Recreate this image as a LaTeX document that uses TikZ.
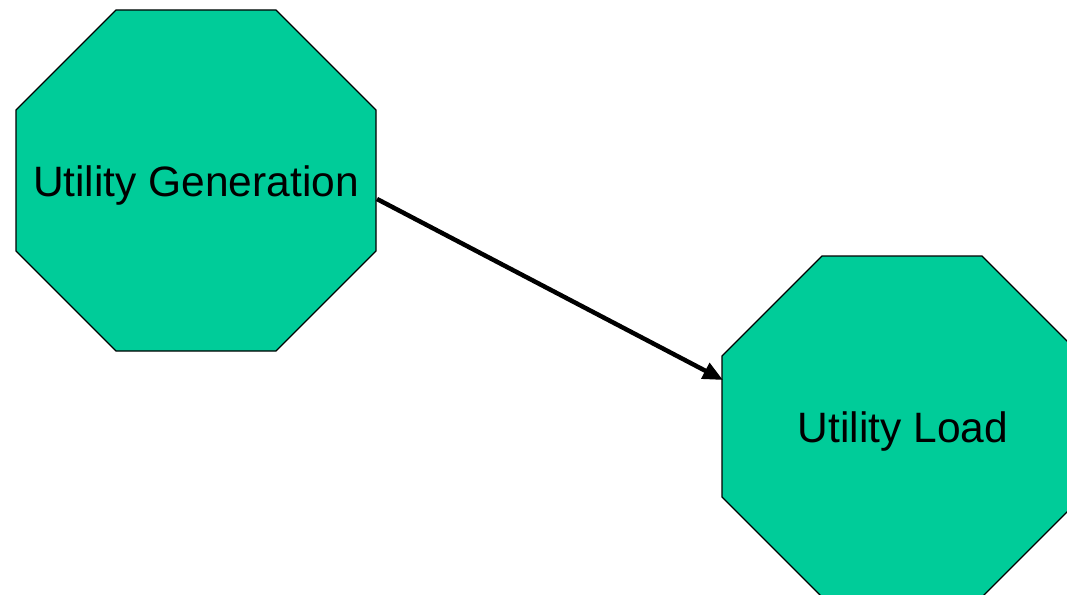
\documentclass[tikz,border=0pt]{standalone}
\usepackage{fontspec}
\setmainfont{Liberation Sans}
\usetikzlibrary{arrows.meta}
\definecolor{octfill}{HTML}{00CC99}
\tikzset{
  oct/.style={fill=octfill,draw=black,line width=1.2pt,line join=miter},
  lbl/.style={inner sep=0pt,font=\fontsize{42.5}{50}\selectfont},
  conn/.style={line width=4.5pt,-{Triangle[length=20pt,width=17pt]}}
}
\begin{document}
\begin{tikzpicture}[x=1pt,y=-1pt]
\useasboundingbox (0,0) rectangle (1067,594);
\draw[oct] (116,10) -- (276,10) -- (376,110) -- (376,251) -- (276,351) -- (116,351) -- (16,251) -- (16,110) -- cycle;
\draw[oct] (822,256) -- (982,256) -- (1082,356) -- (1082,497) -- (982,597) -- (822,597) -- (722,497) -- (722,356) -- cycle;
\node[lbl] (gen) at (196,186) {Utility Generation};
\node[lbl] (load) at (903,432) {Utility Load};
\coordinate (genR) at (377,199);
\coordinate (loadL) at (723,380);
\draw[conn] (genR) -- (loadL);
\end{tikzpicture}
\end{document}
